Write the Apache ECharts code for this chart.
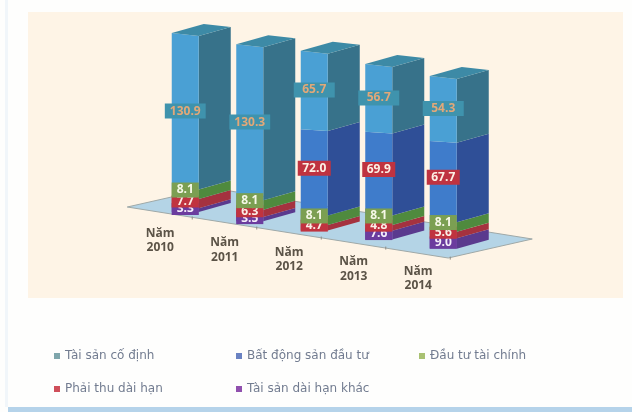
<!DOCTYPE html>
<html><head><meta charset="utf-8">
<style>html,body{margin:0;padding:0;background:#fefefd}#c{width:632px;height:412px}</style>
<script src="https://cdn.jsdelivr.net/npm/echarts@6/dist/echarts.min.js"></script>
</head><body><div id="c"></div>
<script>
var categories = ['Năm\n2010','Năm\n2011','Năm\n2012','Năm\n2013','Năm\n2014'];
var taiSanCoDinh = [130.9,130.3,65.7,56.7,54.3];
var batDongSan = [0,0,72.0,69.9,67.7];
var dauTuTaiChinh = [8.1,8.1,8.1,8.1,8.1];
var phaiThuDaiHan = [7.7,6.3,4.7,4.8,5.6];
var taiSanKhac = [3.3,3.5,0,7.6,9.0];

var stackDefs = [
 {name:'Tài sản dài hạn khác', vals:taiSanKhac, front:'#6b3c9e', side:'#5a3a8e', legend:'#9050ae', box:'#6b3c9e', text:'#f4eefa', w:27, off:-1},
 {name:'Phải thu dài hạn', vals:phaiThuDaiHan, front:'#c0333f', side:'#a5323f', legend:'#cf4f5a', box:'#c0333f', text:'#fbeee6', w:27, off:-2},
 {name:'Đầu tư tài chính', vals:dauTuTaiChinh, front:'#7b9f52', side:'#4f8a3e', legend:'#a9c172', box:'#7b9f52', text:'#f6f8e8', w:27, off:-4},
 {name:'Bất động sản đầu tư', vals:batDongSan, front:'#3f7ccb', side:'#2f4f97', legend:'#6a82c2', box:'#bf3340', text:'#fdf0e4', w:33, off:-4},
 {name:'Tài sản cố định', vals:taiSanCoDinh, front:'#4aa0d4', side:'#37728a', legend:'#7fa6ac', box:'#3f93ad', text:'#e2a878', w:41, off:0}
];
var FONT = '"Open Sans",sans-serif';
var TILT = 9.2, FACE = 27, DX = 32, DY = 9, MAXV = 150;

function segmentSeries(def, idx){
  var rows = def.vals.map(function(v,i){
    var start = 0;
    for (var k=0;k<idx;k++) start += stackDefs[k].vals[i];
    return [i,start,start+v,v];
  });
  return {
    type:'custom', name:def.name, coordinateSystem:'cartesian2d',
    itemStyle:{color:def.legend}, clip:false, silent:true,
    encode:{x:0,y:[1,2]}, data:rows,
    renderItem:function(p,api){
      var i = api.value(0), a = api.value(1), b = api.value(2), v = api.value(3);
      if (!v) return {type:'group',children:[]};
      var full = api.size([0,MAXV])[1];
      var cx = api.coord([i,0])[0], t = TILT*i;
      var yA = api.coord([i,a])[1]+t, yB = api.coord([i,b])[1]+t, y0 = api.coord([i,0])[1]+t;
      var L = cx-FACE/2, R = cx+FACE/2;
      var dA = 3*(y0-yA)/full, dB = 3*(y0-yB)/full;
      var kids = [
        {type:'polygon',z2:10+idx,shape:{points:[[R,yA+dA],[R+DX,yA+dA-DY],[R+DX,yB+dB-DY],[R,yB+dB]]},style:{fill:def.side}},
        {type:'polygon',z2:20+idx,shape:{points:[[L,yA],[R,yA+dA],[R,yB+dB],[L,yB]]},style:{fill:def.front}}
      ];
      if (idx === stackDefs.length-1) kids.push(
        {type:'polygon',z2:30,shape:{points:[[L,yB],[R,yB+dB],[R+DX,yB+dB-DY],[L+DX,yB-DY]]},style:{fill:'#3d8aa6'}});
      var label = v.toFixed(1);
      var textW = label.length===3 ? 17 : (label.length===4 ? 24 : 31);
      kids.push({type:'text',z2:100+idx,x:cx,y:(yA+yB)/2+def.off,style:{
        text:label,align:'center',verticalAlign:'middle',fill:def.text,
        font:'bold 12px '+FONT,backgroundColor:def.box,
        padding:[0,(def.w-textW)/2],lineHeight:idx<2?12:15}});
      return {type:'group',children:kids};
    }
  };
}

var floorSeries = {
  type:'custom', coordinateSystem:'cartesian2d', clip:false, silent:true,
  data:[[0,0]], encode:{x:0,y:1}, z:1,
  renderItem:function(p,api){
    var o = api.coord([0,0]), x=o[0], y=o[1];
    return {type:'polygon',z2:1,shape:{points:[[x-58,y-5],[x+263,y+46],[x+347,y+27],[x+26,y-24]]},
      style:{fill:'#b4d4e6',stroke:'#9fa9a8',lineWidth:1}};
  }
};

var axisSeries = {
  type:'custom', coordinateSystem:'cartesian2d', clip:false, silent:true, z:1,
  data:categories.map(function(c,i){return [i,0];}), encode:{x:0,y:1},
  renderItem:function(p,api){
    var i = api.value(0), o = api.coord([i,0]);
    var tx = o[0]+7, ty = o[1]+4.5+TILT*i*1.09;
    return {type:'group',children:[
      {type:'line',z2:2,shape:{x1:tx,y1:ty,x2:tx,y2:ty+3},style:{stroke:'#8d8d86',lineWidth:1}},
      {type:'text',z2:2,x:o[0]-25,y:o[1]+28.5+TILT*i*1.03,style:{text:categories[i],align:'center',verticalAlign:'middle',
        fill:'#5b5347',font:'bold 12px '+FONT,lineHeight:14.5}}
    ]};
  }
};

var legendSlots = [
  {name:'Tài sản cố định',left:54,top:350},
  {name:'Bất động sản đầu tư',left:236,top:350},
  {name:'Đầu tư tài chính',left:419,top:350},
  {name:'Phải thu dài hạn',left:54,top:383},
  {name:'Tài sản dài hạn khác',left:236,top:383}
];

var chart = echarts.init(document.getElementById('c'),null,{renderer:'canvas'});
chart.setOption({
  animation:false,
  backgroundColor:'#fefefd',
  graphic:[
    {type:'rect',z:-10,shape:{x:28,y:12,width:595,height:286},style:{fill:'#fef4e6'}},
    {type:'rect',z:-10,shape:{x:8,y:407,width:624,height:5},style:{fill:'#b5d3ea'}},
    {type:'rect',z:-10,shape:{x:5,y:0,width:3,height:407},style:{fill:'#f1f6fa'}}
  ],
  legend:legendSlots.map(function(s){return {
    data:[{name:s.name,icon:'rect'}],left:s.left,top:s.top,itemWidth:6,itemHeight:6,
    selectedMode:false,padding:0,
    textStyle:{color:'#727c90',fontSize:12,fontFamily:'"DejaVu Sans",sans-serif'}
  };}),
  grid:{left:153,width:322.5,top:33,height:179},
  xAxis:{type:'category',data:categories,show:false},
  yAxis:{type:'value',min:0,max:MAXV,show:false},
  series:[floorSeries,axisSeries].concat(stackDefs.map(segmentSeries))
});
</script></body></html>
